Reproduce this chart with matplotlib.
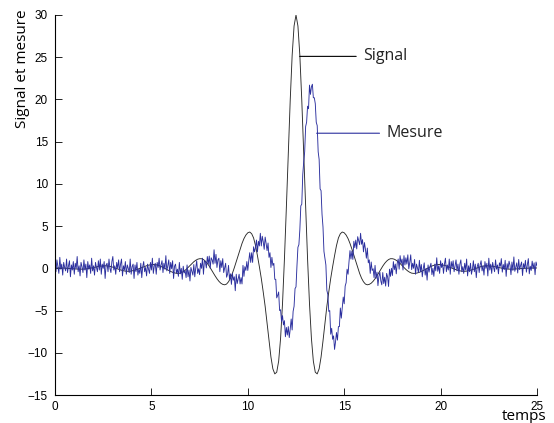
#!/usr/bin/env python3
"""
plot.py — Signal et mesure: the clean signal (black) and the noisy,
delayed measurement (blue) over time.

Saves:
  out.png
"""
import numpy as np

import matplotlib
matplotlib.use("Agg")
import matplotlib.pyplot as plt

# ---------------------------------------------------------------------------
# Data
# ---------------------------------------------------------------------------
T_END = 25.0

# signal, sampled every 0.1 from t=0 to t=25
signal_vals = [
    0.04, 0.05, 0.05, 0.05, 0.04, 0.02, 0.01, -0.01, -0.03, -0.04,
    -0.06, -0.08, -0.09, -0.10, -0.10, -0.09, -0.07, -0.04, 0.00, 0.05,
    0.10, 0.15, 0.20, 0.24, 0.27, 0.29, 0.30, 0.29, 0.26, 0.21,
    0.14, 0.06, -0.03, -0.11, -0.19, -0.25, -0.31, -0.34, -0.35, -0.34,
    -0.30, -0.25, -0.18, -0.09, 0.00, 0.10, 0.19, 0.28, 0.35, 0.40,
    0.44, 0.45, 0.44, 0.39, 0.32, 0.22, 0.11, -0.01, -0.14, -0.26,
    -0.37, -0.47, -0.54, -0.59, -0.60, -0.57, -0.47, -0.32, -0.13, 0.10,
    0.33, 0.57, 0.78, 0.95, 1.08, 1.14, 1.14, 1.04, 0.85, 0.59,
    0.26, -0.11, -0.50, -0.88, -1.23, -1.53, -1.76, -1.90, -1.95, -1.86,
    -1.59, -1.17, -0.60, 0.07, 0.80, 1.55, 2.28, 2.95, 3.52, 3.94,
    4.21, 4.3, 4.1, 3.6, 2.7, 1.5, 0.2, -1.2, -2.8, -4.5,
    -6.5, -8.6, -10.5, -11.9, -12.5, -12.3, -11.0, -8.3, -4.2, 1.1,
    7.2, 13.7, 19.9, 25.2, 28.7,
    30.0,
    28.7, 25.2, 19.9, 13.7, 7.2, 1.1, -4.2, -8.3, -11.0, -12.3,
    -12.5, -11.9, -10.5, -8.6, -6.5, -4.5, -2.8, -1.2, 0.2, 1.5,
    2.7, 3.6, 4.1, 4.3, 4.21, 3.94, 3.52, 2.95, 2.28, 1.55,
    0.80, 0.07, -0.60, -1.17, -1.59, -1.86, -1.95, -1.90, -1.76, -1.53,
    -1.23, -0.88, -0.50, -0.11, 0.26, 0.59, 0.85, 1.04, 1.14, 1.14,
    1.08, 0.95, 0.78, 0.57, 0.33, 0.10, -0.13, -0.32, -0.47, -0.57,
    -0.60, -0.59, -0.54, -0.47, -0.37, -0.26, -0.14, -0.01, 0.11, 0.22,
    0.32, 0.39, 0.44, 0.45, 0.44, 0.40, 0.35, 0.28, 0.19, 0.10,
    0.00, -0.09, -0.18, -0.25, -0.30, -0.34, -0.35, -0.34, -0.31, -0.25,
    -0.19, -0.11, -0.03, 0.06, 0.14, 0.21, 0.26, 0.29, 0.30, 0.29,
    0.27, 0.24, 0.20, 0.15, 0.10, 0.05, 0.00, -0.04, -0.07, -0.09,
    -0.10, -0.10, -0.09, -0.08, -0.06, -0.04, -0.03, -0.01, 0.01, 0.02,
    0.04, 0.05, 0.05, 0.05, 0.04,
]

# measurement, sampled every 0.05 from t=0 to t=25 (one row per time unit)
mesure_vals = [
    0.4, -0.4, 1.0, 0.2, -0.6, 1.3, -0.1, 0.5, -0.8, 0.7, 0.1, -0.3, 1.1, -0.5, 0.3, 0.9, -1.0, 0.4, -0.2, 0.8,
    -0.7, 0.6, 0.0, 1.4, -0.4, 0.3, -0.9, 0.7, 0.2, -0.5, 1.0, -0.2, 0.5, -1.1, 0.8, -0.1, 0.4, -0.6, 1.2, -0.3,
    0.3, -0.8, 0.7, 0.1, -0.4, 0.9, -0.2, 1.1, -0.7, 0.5, 0.0, 0.8, -1.2, 0.4, 0.6, -0.4, 1.1, 0.0, -0.5, 0.8,
    1.4, -0.2, 0.3, -0.7, 0.7, 0.0, 1.0, -0.4, 0.5, 1.1, -0.9, 0.3, -0.2, 0.8, -0.7, 0.4, 0.0, -0.5, 1.1, -0.7,
    0.2, 0.5, -1.2, 0.4, -0.4, 0.7, -0.8, -0.1, -0.6, 0.6, -1.1, 0.2, 0.8, -0.4, 0.1, -0.9, 0.5, -0.1, -0.6, 0.7,
    -0.2, 1.2, -0.6, 0.3, 0.6, -0.7, 0.7, 0.1, 1.2, -0.2, 0.4, 0.9, -0.5, 0.6, -0.1, 1.5, -0.3, 0.3, 1.0, -0.6,
    0.7, -0.05, 0.9, -1.2, 0.25, 0.5, -0.55, -0.1, -0.95, 0.7, -0.65, 0.0, -1.3, 0.25, -0.55, -0.3, -1.1, 0.4, -1.0, -0.2,
    -1.5, 0.1, -0.35, -0.8, 0.45, -1.0, 0.05, 0.9, -0.6, -0.05, -0.75, 0.6, 0.0, 1.2, -0.7, 0.9, 0.75, 0.05, 1.4, 0.5,
    1.45, 0.0, 1.25, 1.0, 0.5, 2.2, 0.6, 1.65, 0.1, 1.0, 1.2, -0.4, 0.9, 0.1, 1.15, -0.5, 0.05, 0.6, -1.05, -0.7,
    0.35, -1.3, -0.65, -1.9, -0.6, -1.4, -1.0, -2.65, -0.7, -1.8, -1.25, -0.7, -1.85, -1.1, -1.85, 0.35, -0.95, 0.2, -0.25, 0.8,
    -0.25, 0.9, 1.85, 0.7, 1.85, 0.7, 2.55, 1.95, 2.45, 3.35, 1.95, 3.2, 2.65, 4.15, 2.65, 3.8, 3.15, 2.25, 3.7, 2.95,
    2.1, 3.0, 1.3, 1.85, 0.1, 1.3, 0.35, 0.6, -1.3, -1.3, -3.5, -3.2, -2.8, -5.0, -4.9, -6.3, -5.6, -6.7, -6.2, -8.1,
    -7.0, -7.9, -6.9, -8.2, -7.2, -6.0, -7.3, -5.1, -4.5, -2.4, -2.2, 0.3, 2.5, 2.8, 4.6, 7.4, 7.6, 11.1, 12.6, 13.8,
    16.8, 17.3, 19.2, 18.9, 21.7, 20.6, 21.5, 21.8, 20.2, 20.2, 19.5, 17.3, 16.9, 13.8, 12.9, 9.4, 9.2, 6.4, 4.9, 2.0,
    1.2, 0.4, -2.6, -3.1, -5.1, -5.0, -7.8, -7.1, -8.4, -8.0, -9.6, -8.7, -7.6, -8.5, -6.9, -6.9, -4.7, -5.9, -4.6, -3.4,
    -4.2, -2.1, -1.7, -0.1, -0.7, 0.8, 2.1, 1.1, 2.05, 1.05, 3.2, 2.45, 3.35, 2.3, 3.75, 3.25, 2.8, 4.15, 2.85, 3.4,
    1.95, 3.05, 2.3, 1.2, 2.4, 0.65, 1.0, -0.6, 0.75, -0.25, -0.05, -1.1, 0.35, -1.2, -0.45, -2.05, -0.95, -0.45, -1.5, -1.95,
    -0.5, -1.8, -1.05, -2.1, -0.6, -1.0, -2.15, -0.1, -0.95, 0.0, -0.85, 0.8, -0.15, 0.5, -0.65, 0.6, 1.1, -0.1, 1.5, 0.55,
    1.1, -0.2, 1.5, 0.4, 1.25, 0.5, 1.6, -0.05, 0.7, 1.6, -0.15, 0.6, 0.0, 1.05, -0.7, 0.5, 0.05, -0.5, 0.95, -0.4,
    0.45, -1.0, -0.05, 0.65, -0.8, 0.0, -1.4, 0.4, -0.45, 0.2, 0.6, -0.75, 0.0, -0.95, 0.5, -0.3, 1.25, -0.35, 0.3, -0.6,
    0.9, 0.1, 0.6, -0.6, 0.5, 1.2, -0.4, 0.4, -0.2, 1.1, -0.7, 0.8, 0.1, 0.9, -0.4, 0.3, 1.0, -0.3, 0.5, -0.7,
    0.5, 1.0, -0.4, 0.2, -0.6, 0.6, -0.2, 1.1, -0.9, 0.3, -0.4, 0.6, -0.7, -0.1, 0.9, -0.4, 0.5, -1.1, 0.2, 0.6,
    -0.5, 0.4, 0.9, -0.3, 0.3, -0.8, 0.8, 0.0, 0.6, -0.9, 1.2, -0.2, 0.5, -0.6, 0.7, 0.1, -0.4, 1.0, -0.1, 0.4,
    -0.65, 0.65, 0.25, 1.15, -0.45, 0.45, -0.15, 0.95, -0.95, 0.55, -0.05, 0.85, 0.35, -0.75, 0.75, -0.25, 1.35, -0.35, 0.15, 0.65,
    -0.55, 1.05, -0.15, 0.35, 0.75, -0.85, 0.55, 0.05, 0.95, -0.45, 0.45, 1.15, -0.65, 0.25, -0.25, 0.85, -0.05, 0.65, -0.75, 0.75,
    0.3,
]

t_signal = np.linspace(0.0, T_END, len(signal_vals))
t_mesure = np.linspace(0.0, T_END, len(mesure_vals))

xticks = [0, 5, 10, 15, 20, 25]
yticks = [-15, -10, -5, 0, 5, 10, 15, 20, 25, 30]

# ---------------------------------------------------------------------------
# Style
# ---------------------------------------------------------------------------
TICK_FONT = ["Liberation Sans", "DejaVu Sans"]
TEXT_FONT = ["Open Sans", "DejaVu Sans"]
SIGNAL_COLOR = "#2a2a2a"
MESURE_COLOR = "#2b2f9e"

# ---------------------------------------------------------------------------
# Plot
# ---------------------------------------------------------------------------
fig = plt.figure(figsize=(5.54, 4.23), dpi=100)
ax = fig.add_axes([55 / 554, 28 / 423, 482 / 554, 380 / 423])

ax.plot(t_signal, signal_vals, color=SIGNAL_COLOR, lw=0.65)
ax.plot(t_mesure, mesure_vals, color=MESURE_COLOR, lw=0.65)

ax.set_xlim(0, T_END)
ax.set_ylim(-15, 30)
ax.set_xticks(xticks)
ax.set_yticks(yticks)

for side in ("top", "right"):
    ax.spines[side].set_visible(False)
for side in ("left", "bottom"):
    ax.spines[side].set_linewidth(0.8)

ax.tick_params(direction="in", length=5, width=0.6, labelsize=8.5)
ax.tick_params(axis="y", pad=5)
ax.tick_params(axis="x", pad=4)
for lab in ax.get_xticklabels() + ax.get_yticklabels():
    lab.set_family(TICK_FONT)

# leader-line labels
arrow_kw = dict(arrowstyle="-", shrinkA=2.7, shrinkB=0, lw=0.8)
ax.annotate("Signal", xy=(12.69, 25.1), xytext=(15.96, 25.1),
            ha="left", va="center", fontsize=11.5, family=TEXT_FONT,
            color="#222222",
            arrowprops=dict(color="black", **arrow_kw))
ax.annotate("Mesure", xy=(13.57, 16.0), xytext=(17.17, 16.0),
            ha="left", va="center", fontsize=11.5, family=TEXT_FONT,
            color="#222222",
            arrowprops=dict(color=MESURE_COLOR, **arrow_kw))

fig.text(23 / 554, 1 - 69 / 423, "Signal et mesure", rotation=90,
         ha="center", va="center", fontsize=11, family=TEXT_FONT)
fig.text(524 / 554, 1 - 416 / 423, "temps",
         ha="center", va="center", fontsize=11, family=TEXT_FONT)

fig.savefig("out.png", dpi=100)
plt.close(fig)
